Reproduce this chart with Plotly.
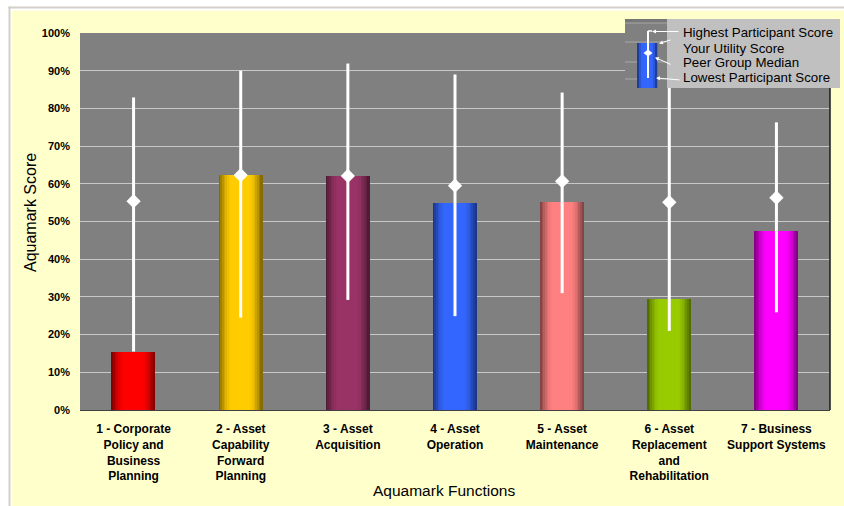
import math
import plotly.graph_objects as go

# ---------------- data ----------------
categories = [
    "1 - Corporate<br>Policy and<br>Business<br>Planning",
    "2 - Asset<br>Capability<br>Forward<br>Planning",
    "3 - Asset<br>Acquisition",
    "4 - Asset<br>Operation",
    "5 - Asset<br>Maintenance",
    "6 - Asset<br>Replacement<br>and<br>Rehabilitation",
    "7 - Business<br>Support Systems",
]
your_score = [15.5, 62.3, 62.1, 55.0, 55.3, 29.4, 47.5]
peer_median = [55.4, 62.3, 62.1, 59.5, 60.7, 55.1, 56.3]
highest_score = [82.9, 90.0, 91.9, 89.0, 84.2, 88.0, 76.3]
lowest_score = [15.5, 24.5, 29.2, 24.9, 31.0, 21.0, 25.9]
y_ticks = [0, 10, 20, 30, 40, 50, 60, 70, 80, 90, 100]
y_tick_labels = ["0%", "10%", "20%", "30%", "40%", "50%", "60%", "70%", "80%", "90%", "100%"]
legend_labels = ["Highest Participant Score", "Your Utility Score",
                 "Peer Group Median", "Lowest Participant Score"]

# ---------------- style ----------------
bar_colors = ["#FF0000", "#FFCC00", "#993366", "#3366FF", "#FF8080", "#99CC00", "#FF00FF"]
W, H = 844, 506                    # figure size (body margin removed)
L, R, T, B = 80, 830, 33, 410      # plot area in page pixels
FONT = "Liberation Sans, Arial, sans-serif"


def px2x(px):
    return (px - L) / (R - L)


def px2y(py):
    return (B - py) / (B - T)


def shade(hexc, f):
    h = hexc.lstrip("#")
    r, g, b = int(h[0:2], 16), int(h[2:4], 16), int(h[4:6], 16)
    return "rgb(%d,%d,%d)" % (round(r * f), round(g * f), round(b * f))


def profile(t):
    # t in [-1, 1]; cylinder-like shading
    u = min(1.0, (1 - abs(t)) / 0.62)
    return 0.48 + 0.52 * math.sin(u * math.pi / 2)


xs = list(range(len(categories)))
fig = go.Figure()

bar_w = 0.405
N = 26
for k in range(N):
    t = -1 + (2 * k + 1) / N
    f = profile(t)
    fig.add_trace(go.Bar(
        x=xs, y=your_score,
        width=bar_w / N * 1.08,
        offset=-bar_w / 2 + k * bar_w / N,
        marker=dict(color=[shade(c, f) for c in bar_colors], line=dict(width=0)),
        showlegend=False, hoverinfo="skip",
    ))

fig.add_trace(go.Scatter(
    x=xs, y=peer_median, mode="markers",
    marker=dict(symbol="diamond", size=11, color="white", line=dict(width=0)),
    error_y=dict(type="data", symmetric=False,
                 array=[h - m for h, m in zip(highest_score, peer_median)],
                 arrayminus=[m - l for m, l in zip(peer_median, lowest_score)],
                 color="white", thickness=3, width=0),
    showlegend=False,
))

shapes = []
# outer frame: white margin + tan border
shapes.append(dict(type="rect", xref="paper", yref="paper", x0=px2x(-2), x1=px2x(12),
                   y0=px2y(520), y1=px2y(-2), fillcolor="white", line=dict(width=0), layer="above"))
shapes.append(dict(type="rect", xref="paper", yref="paper", x0=px2x(-2), x1=px2x(860),
                   y0=px2y(10.5), y1=px2y(-2), fillcolor="white", line=dict(width=0), layer="above"))
shapes.append(dict(type="line", xref="paper", yref="paper", x0=px2x(9.5), x1=px2x(9.5),
                   y0=px2y(6.5), y1=px2y(520), line=dict(color="#D4D0C8", width=2), layer="above"))
shapes.append(dict(type="line", xref="paper", yref="paper", x0=px2x(8.5), x1=px2x(860),
                   y0=px2y(7.5), y1=px2y(7.5), line=dict(color="#D4D0C8", width=2), layer="above"))
# right plot border
shapes.append(dict(type="line", xref="paper", yref="paper", x0=1, x1=1, y0=0, y1=1,
                   line=dict(color="#1a1a1a", width=1.5), layer="above"))

# legend graphic
shapes.append(dict(type="rect", xref="paper", yref="paper", x0=px2x(667), x1=px2x(840),
                   y0=px2y(88), y1=px2y(19), fillcolor="#C0C0C0", line=dict(width=0), layer="above"))
shapes.append(dict(type="rect", xref="paper", yref="paper", x0=px2x(625), x1=px2x(667),
                   y0=px2y(88), y1=px2y(19), fillcolor="#808080", line=dict(width=0), layer="above"))
shapes.append(dict(type="rect", xref="paper", yref="paper", x0=px2x(625), x1=px2x(667),
                   y0=px2y(23), y1=px2y(19), fillcolor="#777777", line=dict(width=0), layer="above"))
for gy in (23, 42, 62, 79):
    shapes.append(dict(type="line", xref="paper", yref="paper", x0=px2x(625), x1=px2x(667),
                       y0=px2y(gy), y1=px2y(gy), line=dict(color="#A8A8A8", width=1), layer="above"))
NM = 10
for k in range(NM):
    t = -1 + (2 * k + 1) / NM
    shapes.append(dict(type="rect", xref="paper", yref="paper",
                       x0=px2x(637 + k * 2), x1=px2x(637 + (k + 1) * 2 + 0.3),
                       y0=px2y(88), y1=px2y(43),
                       fillcolor=shade("#3366FF", profile(t)), line=dict(width=0), layer="above"))
shapes.append(dict(type="line", xref="paper", yref="paper", x0=px2x(648), x1=px2x(648),
                   y0=px2y(78), y1=px2y(31), line=dict(color="white", width=2), layer="above"))
shapes.append(dict(type="line", xref="paper", yref="paper", x0=px2x(648), x1=px2x(652),
                   y0=px2y(31), y1=px2y(31), line=dict(color="white", width=1.5), layer="above"))
shapes.append(dict(type="path", xref="paper", yref="paper",
                   path="M %f %f L %f %f L %f %f L %f %f Z" % (
                       px2x(643.5), px2y(53), px2x(648), px2y(49.5),
                       px2x(652.5), px2y(53), px2x(648), px2y(56.5)),
                   fillcolor="white", line=dict(width=0), layer="above"))

annotations = []
label_y = [32.7, 48.3, 62.7, 77.7]
for txt, ly in zip(legend_labels, label_y):
    annotations.append(dict(xref="paper", yref="paper", x=px2x(681), y=px2y(ly),
                            xanchor="left", yanchor="middle", text=txt, showarrow=False,
                            font=dict(family=FONT, size=13.3, color="black")))
arrows = [((652, 31.5), (680, 31.5)), ((659, 43.5), (672, 39.5)),
          ((655, 57.5), (672, 65)), ((656, 78), (681, 80))]
for (hx, hy), (tx, ty) in arrows:
    annotations.append(dict(xref="paper", yref="paper", x=px2x(hx), y=px2y(hy),
                            ax=tx - hx, ay=ty - hy, axref="pixel", ayref="pixel",
                            text="", showarrow=True, arrowhead=2, arrowsize=0.8,
                            arrowwidth=1, arrowcolor="white"))

annotations.append(dict(xref="paper", yref="paper", x=px2x(444), y=px2y(490),
                        text="Aquamark Functions", showarrow=False,
                        xanchor="center", yanchor="middle",
                        font=dict(family=FONT, size=15.5, color="black")))
annotations.append(dict(xref="paper", yref="paper", x=px2x(30), y=px2y(213),
                        text="Aquamark Score", showarrow=False, textangle=-90,
                        xanchor="center", yanchor="middle",
                        font=dict(family=FONT, size=16, color="black")))

fig.update_layout(
    width=W, height=H,
    margin=dict(l=L, r=W - R, t=T, b=H - B, pad=0),
    paper_bgcolor="#FFFFCC", plot_bgcolor="#808080",
    barmode="overlay", bargap=0,
    showlegend=False,
    shapes=shapes, annotations=annotations,
    xaxis=dict(range=[-0.5, len(categories) - 0.5], tickvals=xs, ticktext=categories,
               showgrid=False, zeroline=False, showline=True, linecolor="#404040",
               linewidth=1, ticks="", ticklabelstandoff=8,
               tickfont=dict(family=FONT, size=12, color="black", weight="bold")),
    yaxis=dict(range=[0, 100], tickvals=y_ticks, ticktext=y_tick_labels,
               showgrid=True, gridcolor="#C8C8C8", gridwidth=1.2, zeroline=False,
               showline=False, ticks="", ticklabelstandoff=9,
               tickfont=dict(family=FONT, size=11, color="black", weight="bold")),
)

fig.write_html(
    "out.html",
    config={"displayModeBar": False},
    post_script="document.body.style.margin='0';document.body.style.overflow='hidden';",
)
